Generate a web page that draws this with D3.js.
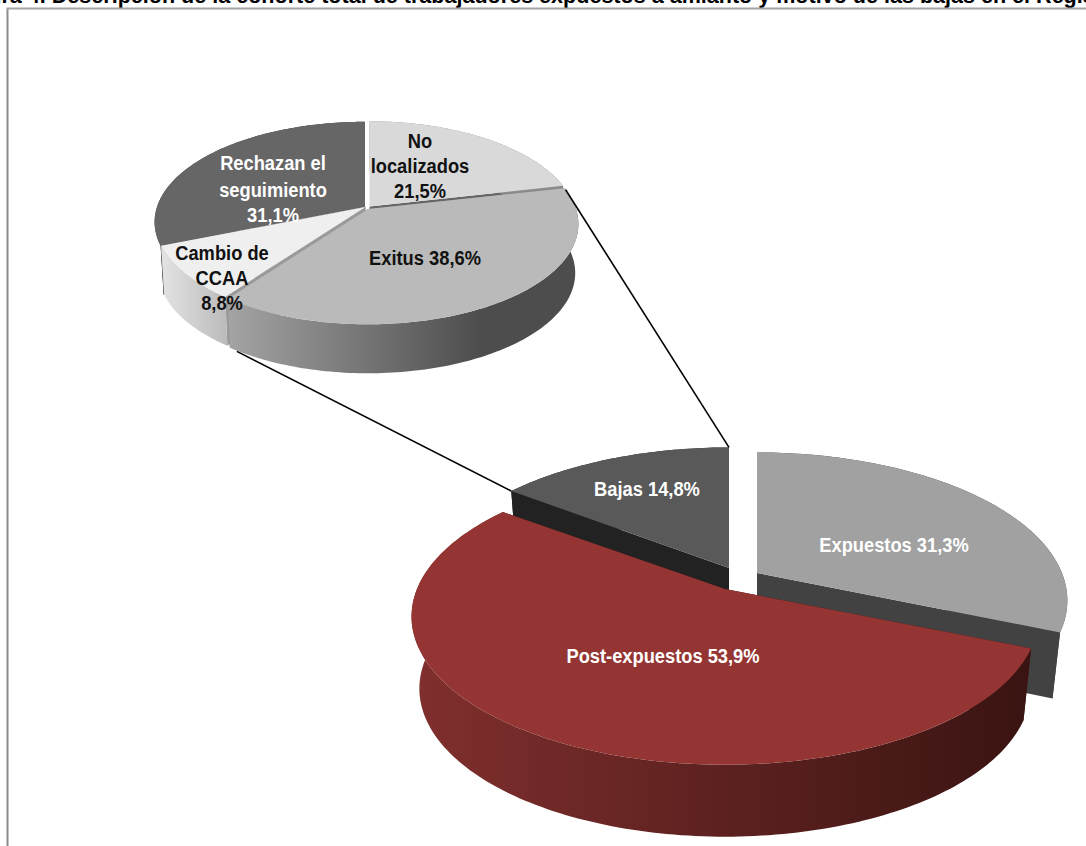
<!DOCTYPE html>
<html><head><meta charset="utf-8">
<script src="https://cdn.jsdelivr.net/npm/d3@7"></script>
<style>html,body{margin:0;padding:0;background:#fff;overflow:hidden}svg{display:block}
text{font-family:"Liberation Sans",Arial,sans-serif;font-weight:bold}</style></head>
<body><svg id="c" width="1086" height="846"></svg>
<script>
const titleText = "Figura 4. Descripción de la cohorte total de trabajadores expuestos a amianto y motivo de las bajas en el Registro";
const mainCategories = ["Expuestos","Post-expuestos","Bajas"];
const mainValues = [31.3,53.9,14.8];
const bajasCategories = ["No localizados","Exitus","Cambio de CCAA","Rechazan el seguimiento"];
const bajasValues = [21.5,38.6,8.8,31.1];

const svg = d3.select("#c");
svg.append("text").attr("x",-44).attr("y",3).attr("font-size",21.55).attr("fill","#000").text(titleText);
svg.append("path").attr("d","M7.5 846V8.5").attr("stroke","#8c8c8c").attr("stroke-width",2).attr("fill","none");
svg.append("path").attr("d","M6.5 8.5H1086").attr("stroke","#a4a4a4").attr("stroke-width",2).attr("fill","none");

const defs = svg.append("defs");
function grad(id,x1,x2,stops){
  const g=defs.append("linearGradient").attr("id",id).attr("gradientUnits","userSpaceOnUse")
    .attr("x1",x1).attr("x2",x2).attr("y1",0).attr("y2",0);
  stops.forEach(([o,c])=>g.append("stop").attr("offset",o).attr("stop-color",c));
  return `url(#${id})`;
}
// perspective projection of a unit disc on to the page
function projector(P){
  return (s,a,scale=1,drop=0)=>{
    const u=Math.sin(a),v=-Math.cos(a),d=1/(1-P.p*v);
    return [s.apex[0]+P.R*(s.rs||1)*scale*u*d, s.apex[1]+drop+P.Ry*v*d];
  };
}
const line=d3.line();
function arcPts(pr,s,scale,drop){
  const n=Math.max(4,Math.ceil((s.a1-s.a0)/0.02));
  return d3.range(n+1).map(i=>pr(s,s.a0+(s.a1-s.a0)*i/n,scale,drop));
}
function drawSlice(g,P,s){
  const pr=projector(P), depth=s.depth||P.depth;
  const top=arcPts(pr,s,1,0);
  const bot=arcPts(pr,s,P.k,depth);
  const ab=[s.apex[0],s.apex[1]+depth];
  [s.a0,s.a1].forEach(a=>{
    g.append("path").attr("d",line([s.apex,pr(s,a,1,0),pr(s,a,P.k,depth),ab])+"Z").attr("fill",s.inner);
  });
  const rim = s.flat==="end" ? top.concat([bot[bot.length-1]])
            : s.flat==="start" ? top.concat([bot[0]])
            : top.concat(bot.slice().reverse());
  g.append("path").attr("d",line(rim)+"Z").attr("fill",s.wall);
  g.append("path").attr("d",line([s.apex].concat(top))+"Z").attr("fill",s.top);
}
function angles(vals){ return d3.pie().sort(null).value(d=>d)(vals); }
const smallP={R:208,Ry:98,p:0.15,k:0.985,depth:49};
const bigP={R:308,Ry:143,p:0.186,k:0.975,depth:72};
const smallA=angles(bajasValues), bigA=angles(mainValues);

const smallStyle={
 "No localizados":{apex:[369.5,206.5],rs:0.985,top:"#d9d9d9",wall:"#8a8a8a",inner:"#666"},
 "Exitus":{apex:[368,209],top:"#bababa",wall:grad("gE",232,480,[[0,"#a3a3a3"],[1,"#4d4d4d"]]),inner:"#8c8c8c"},
 "Cambio de CCAA":{apex:[365.5,207],top:"#efefef",wall:grad("gC",160,232,[[0,"#e4e4e4"],[1,"#b8b8b8"]]),inner:"#9a9a9a"},
 "Rechazan el seguimiento":{apex:[365,207],top:"#666666",wall:"#3d3d3d",inner:"#3d3d3d",flat:"start"}
};
const bigStyle={
 "Expuestos":{apex:[757,573],rs:0.99,depth:66,flat:"end",top:"#a1a1a1",wall:"#424242",inner:"#424242"},
 "Post-expuestos":{apex:[725,589],top:"#943533",wall:grad("gP",420,1025,[[0,"#7f2f2d"],[1,"#3a1412"]]),inner:"#3a1412"},
 "Bajas":{apex:[729,568],rs:0.98,top:"#595959",wall:"#222222",inner:"#222222"}
};
const smallG=svg.append("g"), bigG=svg.append("g");
const sl=bajasCategories.map((c,i)=>({name:c,a0:smallA[i].startAngle,a1:smallA[i].endAngle,...smallStyle[c]}));
["Rechazan el seguimiento","No localizados","Cambio de CCAA","Exitus"].forEach(n=>drawSlice(smallG,smallP,sl.find(s=>s.name===n)));
const bl=mainCategories.map((c,i)=>({name:c,a0:bigA[i].startAngle,a1:bigA[i].endAngle,...bigStyle[c]}));
["Expuestos","Bajas","Post-expuestos"].forEach(n=>drawSlice(bigG,bigP,bl.find(s=>s.name===n)));

// connector lines between the "Bajas" slice and the breakdown pie
const prS=projector(smallP), prB=projector(bigP);
const noLoc=sl[0], exitus=sl[1], bajas=bl[2];
const conn=[[prS(noLoc,noLoc.a1,1,0),prB(bajas,bajas.a1,1,0),0.015],
            [prS(exitus,exitus.a1,smallP.k,smallP.depth),prB(bajas,bajas.a0,1,0),0.025]];
svg.selectAll("path.conn").data(conn).join("path").attr("class","conn")
  .attr("d",d=>line([d3.interpolate(d[0],d[1])(d[2]),d[1]]))
  .attr("stroke","#000").attr("stroke-width",1.6).attr("fill","none");

const labels=[
 {t:["No","localizados","21,5%"],x:420,y:[148,173.5,198.5],c:"#111"},
 {t:["Exitus 38,6%"],x:425,y:[265.5],c:"#111"},
 {t:["Cambio de","CCAA","8,8%"],x:222,y:[260,285,310],c:"#111"},
 {t:["Rechazan el","seguimiento","31,1%"],x:273,y:[170.5,197,222],c:"#fff"},
 {t:["Bajas 14,8%"],x:647,y:[496],c:"#fff"},
 {t:["Expuestos 31,3%"],x:894,y:[552],c:"#fff"},
 {t:["Post-expuestos 53,9%"],x:663,y:[663],c:"#fff"}
];
const sx=0.915;
labels.forEach(l=>l.t.forEach((t,i)=>{
  svg.append("text").attr("text-anchor","middle").attr("x",l.x).attr("y",l.y[i])
    .attr("font-size",20).attr("fill",l.c).attr("transform",`translate(${l.x*(1-sx)} 0) scale(${sx} 1)`).text(t);
}));
</script></body></html>
